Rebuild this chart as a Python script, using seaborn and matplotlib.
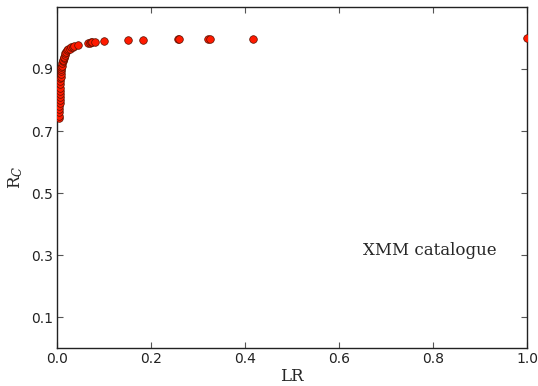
import matplotlib
matplotlib.use("Agg")
import matplotlib.pyplot as plt
import seaborn as sns
import pandas as pd

# Likelihood ratio threshold vs. reliability of the XMM catalogue matches
lr = [0.004, 0.0045, 0.005, 0.005, 0.0052, 0.0055, 0.0055, 0.006, 0.006, 0.0062,
      0.0065, 0.0068, 0.007, 0.0072, 0.0075, 0.008, 0.0085, 0.009, 0.0095, 0.010,
      0.011, 0.012, 0.013, 0.014, 0.015, 0.016, 0.018, 0.020, 0.022, 0.024,
      0.027, 0.030, 0.033, 0.037, 0.045, 0.065, 0.070, 0.072, 0.075, 0.080,
      0.100, 0.152, 0.183, 0.257, 0.260, 0.322, 0.325, 0.418, 1.0]
rc = [0.742, 0.75, 0.76, 0.77, 0.78, 0.79, 0.80, 0.81, 0.82, 0.83,
      0.84, 0.85, 0.86, 0.87, 0.875, 0.885, 0.895, 0.90, 0.905, 0.91,
      0.92, 0.925, 0.93, 0.935, 0.94, 0.945, 0.95, 0.955, 0.96, 0.963,
      0.966, 0.97, 0.972, 0.974, 0.977, 0.983, 0.985, 0.986, 0.987, 0.988,
      0.99, 0.993, 0.994, 0.996, 0.996, 0.997, 0.997, 0.998, 0.999]
x_ticks = [0.0, 0.2, 0.4, 0.6, 0.8, 1.0]
y_ticks = [0.1, 0.3, 0.5, 0.7, 0.9]

df = pd.DataFrame({"LR": lr, "RC": rc})

sns.set_style("ticks")
plt.rcParams["font.family"] = ["DejaVu Sans"]
plt.rcParams["mathtext.fontset"] = "dejavuserif"

fig = plt.figure(figsize=(5.38, 3.86), dpi=100)
ax = fig.add_axes([0.106, 0.098, 0.8736, 0.884])

sns.scatterplot(data=df, x="LR", y="RC", ax=ax, color="#ff1a00",
                edgecolor="#551100", linewidth=0.5, s=30, zorder=3)

ax.set_xlim(0, 1.0)
ax.set_ylim(0, 1.1)
ax.set_xticks(x_ticks)
ax.set_xticklabels([f"{v:.1f}" for v in x_ticks])
ax.set_yticks(y_ticks)
ax.set_yticklabels([f"{v:.1f}" for v in y_ticks])
ax.tick_params(direction="in", top=True, right=True, length=4, width=0.8,
               labelsize=10, labelcolor="#222222", color="#555555", pad=3)
for sp in ax.spines.values():
    sp.set_visible(True)
    sp.set_linewidth(1.0)
    sp.set_color("#222222")

ax.set_xlabel("LR", family="DejaVu Serif", fontsize=12, labelpad=1)
ax.set_ylabel(r"R$_C$", family="DejaVu Serif", fontsize=12, labelpad=4)
ax.text(0.65, 0.3, "XMM catalogue", family="DejaVu Serif", fontsize=12)

fig.savefig("out.png", dpi=100)
